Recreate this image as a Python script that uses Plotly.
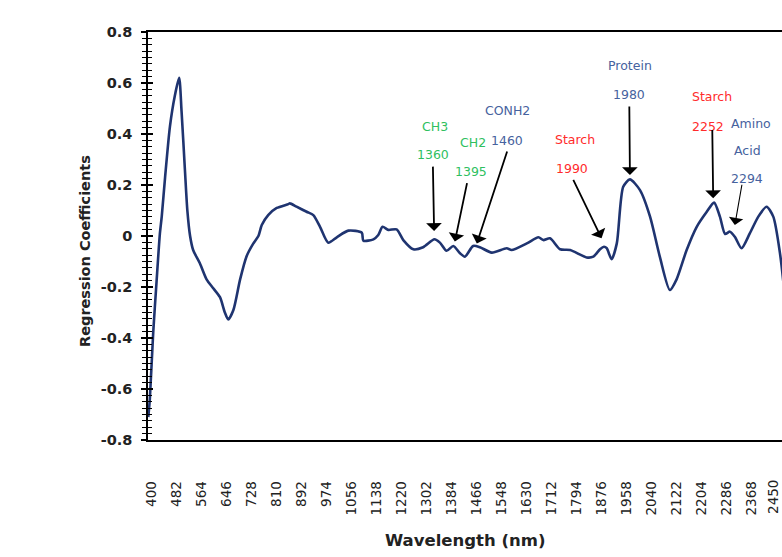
import plotly.graph_objects as go

# PLS regression coefficients across the NIR spectrum
wavelength = [389, 394, 405, 416, 427, 433, 444, 460, 476, 490, 498, 509, 517, 526, 536,
              558, 580, 602, 624, 640, 651, 668, 690, 711, 733, 750, 761, 782, 810, 848,
              853, 875, 908, 930, 952, 979, 1007, 1045, 1089, 1094, 1127, 1143, 1157, 1176,
              1203, 1225, 1258, 1290, 1327, 1345, 1367, 1389, 1411, 1427, 1454, 1476, 1515,
              1564, 1580, 1630, 1668, 1684, 1706, 1739, 1772, 1826, 1848, 1870, 1883, 1892,
              1908, 1925, 1946, 1968, 2001, 2034, 2066, 2099, 2121, 2154, 2187, 2220, 2244,
              2263, 2280, 2296, 2312, 2334, 2361, 2389, 2416, 2438, 2460, 2478]
coef = [-0.71, -0.64, -0.38, -0.18, 0.01, 0.076, 0.23, 0.43, 0.55, 0.62, 0.49, 0.26, 0.10,
        0.0, -0.055, -0.107, -0.17, -0.205, -0.24, -0.30, -0.327, -0.29, -0.17, -0.08,
        -0.03, 0.0, 0.043, 0.082, 0.11, 0.125, 0.128, 0.115, 0.095, 0.082, 0.036, -0.026,
        -0.005, 0.021, 0.013, -0.018, -0.013, 0.004, 0.036, 0.024, 0.026, -0.016, -0.052,
        -0.044, -0.013, -0.026, -0.058, -0.039, -0.068, -0.081, -0.039, -0.044, -0.065,
        -0.048, -0.055, -0.029, -0.005, -0.016, -0.009, -0.052, -0.055, -0.084, -0.081,
        -0.052, -0.042, -0.048, -0.091, -0.029, 0.193, 0.222, 0.18, 0.076, -0.081, -0.212,
        -0.17, -0.055, 0.036, 0.095, 0.131, 0.076, 0.008, 0.017, -0.003, -0.048, 0.01,
        0.076, 0.115, 0.076, -0.068, -0.26]

x_ticks = list(range(400, 2451, 82))
y_ticks = [0.8, 0.6, 0.4, 0.2, 0, -0.2, -0.4, -0.6, -0.8]
y_tick_text = ["0.8", "0.6", "0.4", "0.2", "0", "-0.2", "-0.4", "-0.6", "-0.8"]

GREEN = "#2fbf5f"
RED = "#ff2b2b"
BLUE = "#46629e"
LINE = "#1f3470"
FONT = "DejaVu Sans"
TICK_FONT = dict(family=FONT, size=13.5, color="#222")

fig = go.Figure()
fig.add_trace(go.Scatter(
    x=wavelength, y=coef, mode="lines",
    line=dict(color=LINE, width=2.6, shape="spline", smoothing=0.7),
    hoverinfo="skip", showlegend=False,
))
# second axis only carries the inner half of the cross ticks
fig.add_trace(go.Scatter(x=[None], y=[None], yaxis="y2", showlegend=False, hoverinfo="skip"))

y_range = [-0.8, 0.8]
fig.update_layout(
    width=782, height=557,
    margin=dict(l=148, r=0, t=32, b=117),
    paper_bgcolor="white", plot_bgcolor="white",
    xaxis=dict(
        range=[388, 2466.6], tickvals=x_ticks[:-1], ticktext=[str(v) for v in x_ticks[:-1]],
        tickangle=-90, ticks="", showgrid=False, zeroline=False,
        showline=True, linecolor="black", linewidth=1.5, mirror=True,
        tickfont=TICK_FONT, ticklabelstandoff=34,
    ),
    yaxis=dict(
        range=y_range, tickvals=y_ticks, ticktext=y_tick_text,
        ticks="outside", ticklen=5, tickwidth=1.5, tickcolor="black",
        minor=dict(dtick=0.025, ticks="outside", ticklen=4, tickwidth=1.3, tickcolor="black", tick0=0),
        showgrid=False, zeroline=False, showline=True, linecolor="black", linewidth=1.5,
        tickfont=dict(family=FONT, size=14.5, color="#222", weight="bold"),
        ticklabelstandoff=6,
    ),
    yaxis2=dict(
        range=y_range, overlaying="y", side="left", anchor="x",
        tickvals=y_ticks, showticklabels=False,
        ticks="inside", ticklen=5, tickwidth=1.5, tickcolor="black",
        minor=dict(dtick=0.025, ticks="inside", ticklen=4, tickwidth=1.3, tickcolor="black", tick0=0),
        showgrid=False, zeroline=False, showline=False,
    ),
)

# last category label sits on the page edge, so it is placed as an annotation
fig.add_annotation(text=str(x_ticks[-1]), x=x_ticks[-1], xref="x", yref="paper",
                   y=(440 - 478) / 408, textangle=-90, xanchor="center", yanchor="top",
                   xshift=-4, showarrow=False, font=TICK_FONT)

# axis titles
fig.add_annotation(text="Regression Coefficients", xref="paper", yref="paper",
                   x=(85 - 148) / 634, y=(440 - 251) / 408, textangle=-90,
                   xanchor="center", yanchor="middle",
                   showarrow=False, font=dict(family=FONT, size=14.5, color="#222", weight="bold"))
fig.add_annotation(text="Wavelength (nm)", xref="paper", yref="paper",
                   x=(465 - 148) / 634, y=(440 - 540) / 408,
                   xanchor="center", yanchor="middle",
                   showarrow=False, font=dict(family=FONT, size=16.5, color="#222", weight="bold"))

# band labels: (text, x, y, colour)
labels = [
    ("CH3", 1329, 0.431, GREEN), ("1360", 1322, 0.318, GREEN),
    ("CH2", 1452, 0.366, GREEN), ("1395", 1446, 0.252, GREEN),
    ("CONH2", 1568, 0.491, BLUE), ("1460", 1564, 0.376, BLUE),
    ("Starch", 1788, 0.379, RED), ("1990", 1777, 0.263, RED),
    ("Protein", 1968, 0.667, BLUE), ("1980", 1966, 0.553, BLUE),
    ("Starch", 2236, 0.546, RED), ("2252", 2225, 0.431, RED),
    ("Amino", 2364, 0.442, BLUE), ("Acid", 2353, 0.337, BLUE), ("2294", 2351, 0.226, BLUE),
]
for text, x, y, col in labels:
    fig.add_annotation(text=text, x=x, y=y, xref="x", yref="y", showarrow=False,
                       xanchor="center", yanchor="middle",
                       font=dict(family=FONT, size=12.5, color=col))

# arrows: (tail x, tail y, tip x, tip y, width)
arrows = [
    (1322, 0.278, 1326, 0.020, 1.8),
    (1435, 0.213, 1394, -0.022, 1.8),
    (1567, 0.337, 1466, -0.029, 1.8),
    (1780, 0.226, 1875, -0.009, 1.8),
    (1966, 0.514, 1968, 0.239, 1.8),
    (2238, 0.422, 2241, 0.148, 1.8),
    (2336, 0.207, 2312, 0.043, 1.1),
]
for ax, ay, x, y, w in arrows:
    fig.add_annotation(text="", x=x, y=y, ax=ax, ay=ay, xref="x", yref="y",
                       axref="x", ayref="y", showarrow=True, arrowhead=1,
                       arrowsize=1.45 if w > 1.5 else 2.2, arrowwidth=w, arrowcolor="black")

fig.write_html("out.html")
